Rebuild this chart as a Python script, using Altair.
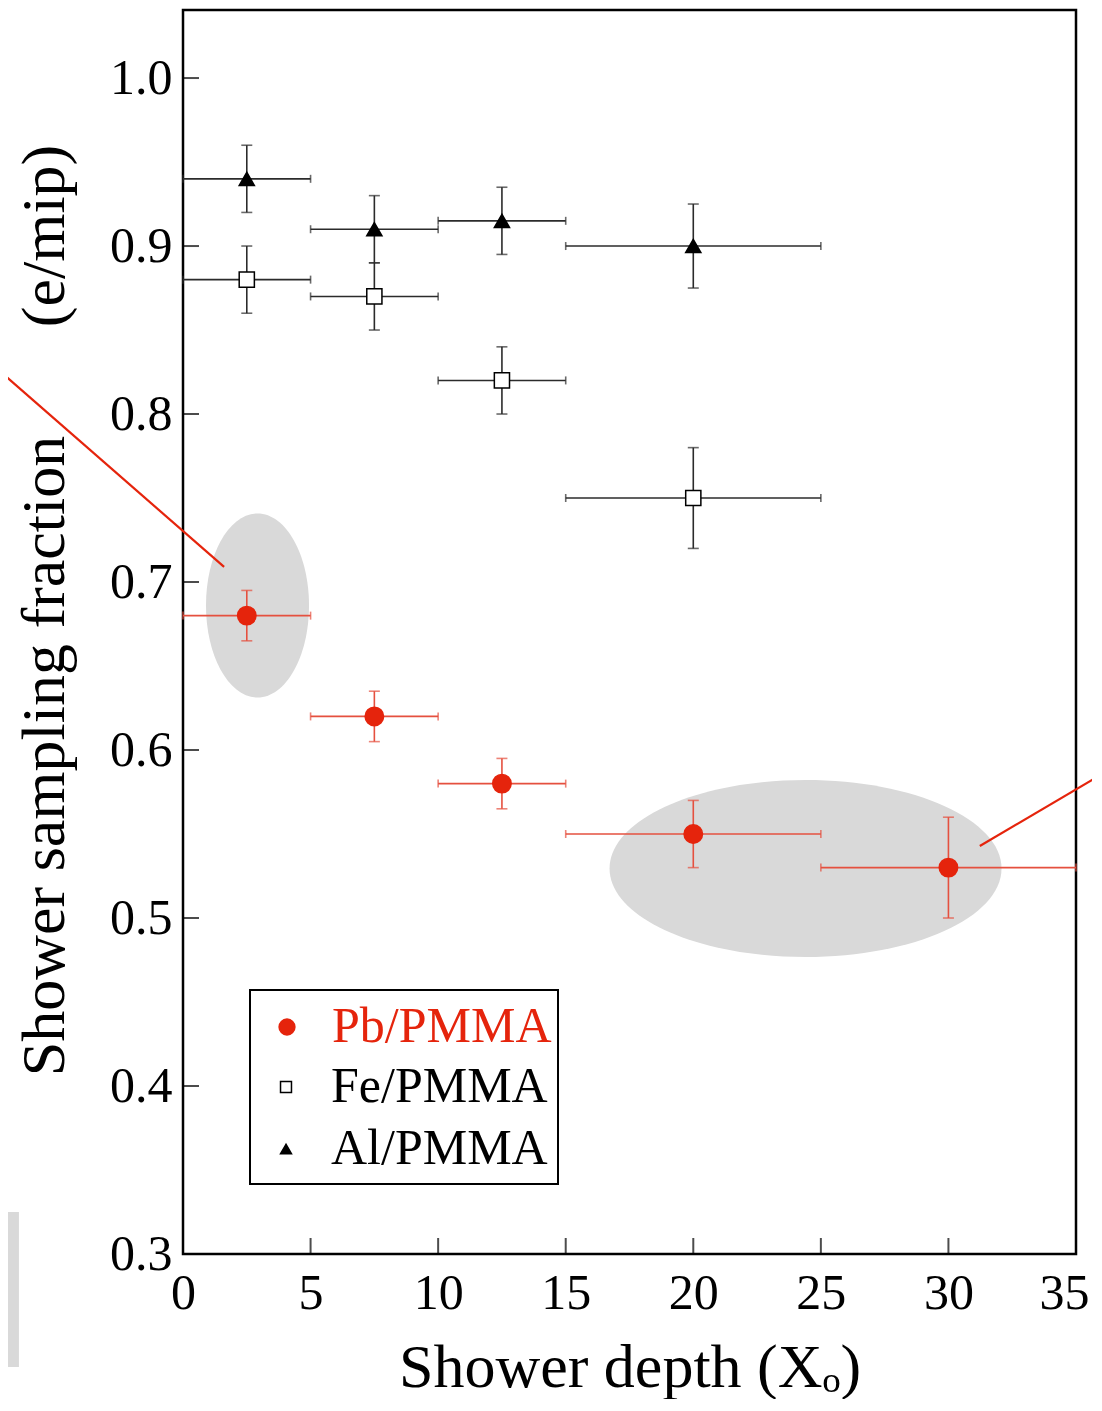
import altair as alt
import pandas as pd

# ---------------- data ----------------
series = ["Pb/PMMA", "Fe/PMMA", "Al/PMMA"]

x_center = [2.5, 7.5, 12.5, 20, 30]
x_low = [0, 5, 10, 15, 25]
x_high = [5, 10, 15, 25, 35]

pb_y = [0.68, 0.62, 0.58, 0.55, 0.53]
pb_err = [0.015, 0.015, 0.015, 0.02, 0.03]

fe_y = [0.88, 0.87, 0.82, 0.75]
fe_err = [0.02, 0.02, 0.02, 0.03]

al_y = [0.94, 0.91, 0.915, 0.90]
al_err = [0.02, 0.02, 0.02, 0.025]

x_ticks = [0, 5, 10, 15, 20, 25, 30, 35]
y_ticks = [0.3, 0.4, 0.5, 0.6, 0.7, 0.8, 0.9, 1.0]

# highlight ellipses (centres, data units)
ellipse_x = [2.92, 24.4]
ellipse_y = [0.686, 0.5295]

# red pointer lines (end points, data units)
pointer1_x = [-7.14, 1.61]
pointer1_y = [0.825, 0.709]
pointer2_x = [31.23, 36.09]
pointer2_y = [0.5429, 0.5863]

# cropped grey panel at the lower-left edge
crop_x = [-7.3, -6.43]
crop_y = [0.2327, 0.325]

# ---------------- styling ----------------
RED = "#e5240c"
RED_BAR = "#e5503f"
DARK = "#2b2b2b"
GRAY = "#d9d9d9"
FONT = "Liberation Serif"

rows = []
for name, ys, errs in [("Pb/PMMA", pb_y, pb_err), ("Fe/PMMA", fe_y, fe_err), ("Al/PMMA", al_y, al_err)]:
    for i, (yv, ev) in enumerate(zip(ys, errs)):
        rows.append({
            "series": name, "x": x_center[i], "y": yv,
            "xlo": x_low[i], "xhi": x_high[i],
            "ylo": yv - ev, "yhi": yv + ev,
        })
df = pd.DataFrame(rows)

xs = alt.Scale(domain=[0, 35], nice=False, zero=False)
ys_ = alt.Scale(domain=[0.3, 1.0405], nice=False, zero=False)

bar_color = alt.Color("series:N", scale=alt.Scale(domain=series, range=[RED_BAR, DARK, DARK]), legend=None)

base = alt.Chart(df)

x_axis = alt.Axis(values=x_ticks, format="d", labelPadding=14, domain=False, ticks=False,
                  grid=False, labelOverlap=False, labelFlush=False,
                  labelOffset={"condition": {"test": f"datum.value === {x_ticks[-1]}", "value": -12}, "value": 0},
                  title="Shower depth (X\u2092)",
                  titleY=132, titleBaseline="alphabetic")
y_axis = alt.Axis(values=y_ticks, format=".1f", labelPadding=11, domain=False, ticks=False,
                  grid=False, labelOverlap=False, labelFlush=False,
                  title="Shower sampling fraction\u00a0\u00a0\u00a0\u00a0\u00a0\u00a0 (e/mip)",
                  titleX=-120, titleY=600, titleAngle=270, titleBaseline="alphabetic",
                  titleAlign="center")

# grey crop panel
crop_df = pd.DataFrame({"x": [crop_x[0]], "x2": [crop_x[1]], "y": [crop_y[0]], "y2": [crop_y[1]]})
crop = alt.Chart(crop_df).mark_rect(color=GRAY).encode(
    x=alt.X("x:Q", scale=xs, axis=x_axis), x2="x2:Q",
    y=alt.Y("y:Q", scale=ys_, axis=y_axis), y2="y2:Q")


def ellipse_path(rx, ry):
    k = 0.5523
    return (f"M {rx} 0 C {rx} {k*ry} {k*rx} {ry} 0 {ry} "
            f"C {-k*rx} {ry} {-rx} {k*ry} {-rx} 0 "
            f"C {-rx} {-k*ry} {-k*rx} {-ry} 0 {-ry} "
            f"C {k*rx} {-ry} {rx} {-k*ry} {rx} 0 Z")


e1 = alt.Chart(pd.DataFrame({"x": [ellipse_x[0]], "y": [ellipse_y[0]]})).mark_point(
    shape=ellipse_path(0.56, 1.0), filled=True, fill=GRAY, opacity=1, strokeWidth=0, size=33856
).encode(x=alt.X("x:Q", scale=xs), y=alt.Y("y:Q", scale=ys_))
e2 = alt.Chart(pd.DataFrame({"x": [ellipse_x[1]], "y": [ellipse_y[1]]})).mark_point(
    shape=ellipse_path(1.0, 0.4515), filled=True, fill=GRAY, opacity=1, strokeWidth=0, size=153664
).encode(x=alt.X("x:Q", scale=xs), y=alt.Y("y:Q", scale=ys_))

p1 = alt.Chart(pd.DataFrame({"x": pointer1_x, "y": pointer1_y})).mark_line(
    color=RED, strokeWidth=2.2, clip=False
).encode(x=alt.X("x:Q", scale=xs), y=alt.Y("y:Q", scale=ys_))
p2 = alt.Chart(pd.DataFrame({"x": pointer2_x, "y": pointer2_y})).mark_line(
    color=RED, strokeWidth=2.2, clip=False
).encode(x=alt.X("x:Q", scale=xs), y=alt.Y("y:Q", scale=ys_))

hbar = base.mark_rule(strokeWidth=1.6).encode(
    x=alt.X("xlo:Q", scale=xs), x2="xhi:Q", y=alt.Y("y:Q", scale=ys_), color=bar_color)
vbar = base.mark_rule(strokeWidth=1.6).encode(
    x=alt.X("x:Q", scale=xs), y=alt.Y("ylo:Q", scale=ys_), y2="yhi:Q", color=bar_color)
vcaps = base.transform_fold(["ylo", "yhi"], as_=["k", "v"]).mark_tick(
    orient="horizontal", size=11, thickness=1.6
).encode(x=alt.X("x:Q", scale=xs), y=alt.Y("v:Q", scale=ys_), color=bar_color)
hcaps = base.transform_fold(["xlo", "xhi"], as_=["k", "v"]).mark_tick(
    orient="vertical", size=8, thickness=1.6
).encode(x=alt.X("v:Q", scale=xs), y=alt.Y("y:Q", scale=ys_), color=bar_color)

# legend for the Pb series (red label), drawn on top of the boxed legend
legend_pb = alt.Legend(
    title=None, orient="none", legendX=63, legendY=992, zindex=2,
    labelFont=FONT, labelFontSize=50, labelColor=RED, labelLimit=500,
    padding=0, symbolOffset=16, labelOffset=20,
    symbolStrokeWidth=1.5, symbolSize=250,
)
# boxed legend for the Fe / Al series; its blank title reserves the first row
legend_fa = alt.Legend(
    title="\u00a0" * 30, titleFontSize=48, titlePadding=14, titleFont=FONT, titleLimit=700,
    orient="none", legendX=67, legendY=980, zindex=1,
    labelFont=FONT, labelFontSize=50, labelColor="black", labelLimit=500,
    padding=10, rowPadding=12, symbolOffset=1, labelOffset=20,
    strokeColor="black", fillColor="white", symbolStrokeWidth=1.5, symbolSize=120,
)

pb_names = series[:1]
fa_names = series[1:]

points_pb = base.transform_filter(alt.FieldOneOfPredicate(field="series", oneOf=pb_names)).mark_point(
    opacity=1, strokeWidth=1.5, size=340
).encode(
    x=alt.X("x:Q", scale=xs), y=alt.Y("y:Q", scale=ys_),
    shape=alt.Shape("series:N", scale=alt.Scale(domain=pb_names, range=["circle"]), legend=legend_pb),
    fill=alt.Fill("series:N", scale=alt.Scale(domain=pb_names, range=[RED]), legend=legend_pb),
    stroke=alt.Stroke("series:N", scale=alt.Scale(domain=pb_names, range=[RED]), legend=legend_pb),
)
points_fa = base.transform_filter(alt.FieldOneOfPredicate(field="series", oneOf=fa_names)).mark_point(
    opacity=1, strokeWidth=1.5, size=230
).encode(
    x=alt.X("x:Q", scale=xs), y=alt.Y("y:Q", scale=ys_),
    shape=alt.Shape("series:N", scale=alt.Scale(domain=fa_names, range=["square", "triangle-up"]), legend=legend_fa),
    fill=alt.Fill("series:N", scale=alt.Scale(domain=fa_names, range=["white", "black"]), legend=legend_fa),
    stroke=alt.Stroke("series:N", scale=alt.Scale(domain=fa_names, range=["black", "black"]), legend=legend_fa),
)

# inward ticks
xt_df = pd.DataFrame({"v": x_ticks[1:-1], "b": [y_ticks[0]] * (len(x_ticks) - 2)})
yt_df = pd.DataFrame({"v": y_ticks[1:], "b": [x_ticks[0]] * (len(y_ticks) - 1)})
xticks = alt.Chart(xt_df).mark_tick(orient="vertical", size=16, thickness=2, yOffset=-8, color="black").encode(
    x=alt.X("v:Q", scale=xs), y=alt.Y("b:Q", scale=ys_))
yticks = alt.Chart(yt_df).mark_tick(orient="horizontal", size=16, thickness=2, xOffset=8, color="black").encode(
    x=alt.X("b:Q", scale=xs), y=alt.Y("v:Q", scale=ys_))

chart = alt.layer(
    crop, e1, e2, p1, p2, hbar, vbar, vcaps, hcaps, points_fa, points_pb, xticks, yticks
).resolve_scale(
    color="independent", shape="independent", fill="independent", stroke="independent"
).properties(
    width=893, height=1244,
    autosize=alt.AutoSizeParams(type="none"),
    padding={"left": 175, "top": 2, "right": 16, "bottom": 145},
).configure_view(
    stroke="black", strokeWidth=2.5
).configure_axis(
    labelFont=FONT, labelFontSize=50, labelColor="black",
    titleFont=FONT, titleFontSize=62, titleFontWeight="normal", titleColor="black",
).configure_legend(
    strokeWidth=2
)

chart.save("out.html", embed_options={"renderer": "svg", "actions": False})
